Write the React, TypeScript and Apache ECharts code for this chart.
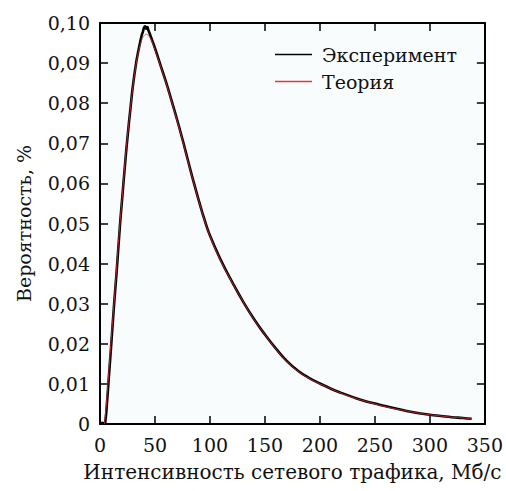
import React, { useEffect, useRef } from "react";
import * as echarts from "echarts";

// x values (Мб/с)
const xExp = [0, 2, 4, 5, 6.5, 8, 10, 13, 15, 18, 20, 23, 25, 28, 30, 33, 35, 37, 38, 39, 40, 41, 42, 43, 44, 45, 47, 50, 55, 60, 65, 70, 75, 80, 85, 90, 95, 100, 110, 120, 130, 140, 150, 160, 170, 180, 190, 200, 210, 220, 230, 240, 250, 260, 270, 280, 290, 300, 310, 320, 330, 338];
const yExp = [0, 0.0003, 0, 0.001, 0.0058, 0.0115, 0.019, 0.0305, 0.0375, 0.049, 0.0557, 0.0655, 0.0715, 0.0795, 0.0845, 0.0903, 0.0932, 0.0958, 0.0970, 0.0978, 0.0988, 0.0992, 0.0986, 0.0990, 0.0982, 0.0975, 0.0960, 0.0937, 0.0895, 0.0853, 0.0807, 0.0760, 0.0710, 0.0657, 0.0605, 0.0556, 0.0510, 0.0470, 0.0408, 0.0355, 0.0306, 0.0262, 0.0223, 0.0188, 0.0157, 0.0133, 0.0115, 0.0101, 0.0088, 0.0077, 0.0067, 0.0058, 0.0051, 0.0044, 0.0038, 0.0032, 0.0027, 0.0023, 0.0020, 0.0017, 0.0015, 0.0013];

const xTheory = [4, 5, 8, 10, 13, 15, 18, 20, 23, 25, 28, 30, 33, 35, 38, 40, 42, 45, 48, 50, 55, 60, 65, 70, 75, 80, 85, 90, 95, 100, 110, 120, 130, 140, 150, 160, 170, 180, 190, 200, 210, 220, 230, 240, 250, 260, 270, 280, 290, 300, 310, 320, 330, 338];
const yTheory = [0, 0.0025, 0.013, 0.0205, 0.031, 0.0385, 0.0495, 0.056, 0.066, 0.0718, 0.0795, 0.0843, 0.0900, 0.0928, 0.0958, 0.0968, 0.0972, 0.0965, 0.0948, 0.0933, 0.0893, 0.0851, 0.0805, 0.0758, 0.0708, 0.0655, 0.0604, 0.0555, 0.0509, 0.0469, 0.0406, 0.0354, 0.0306, 0.0261, 0.0223, 0.0187, 0.0156, 0.0132, 0.0114, 0.0100, 0.0088, 0.0076, 0.0066, 0.0058, 0.0050, 0.0043, 0.0037, 0.0032, 0.0027, 0.0023, 0.0020, 0.0017, 0.0015, 0.0013];

const seriesNames = ["Эксперимент", "Теория"];
const xAxisTitle = "Интенсивность сетевого трафика, Мб/с";
const yAxisTitle = "Вероятность, %";

const FONT = "DejaVu Serif";

export default function App() {
  const ref = useRef<HTMLDivElement>(null);
  useEffect(() => {
    if (!ref.current) return;
    const chart = echarts.init(ref.current, undefined, { renderer: "svg" });
    const tickStyle = { show: true, inside: true, length: 8, lineStyle: { color: "#000", width: 1.5 } };
    const axisLine = { show: true, onZero: false, lineStyle: { color: "#000", width: 2 } };
    chart.setOption({
      animation: false,
      backgroundColor: "#ffffff",
      textStyle: { fontFamily: FONT },
      grid: {
        left: 100,
        right: 21,
        top: 23,
        bottom: 67,
        show: true,
        backgroundColor: "#f9fcfd",
        borderWidth: 0,
      },
      legend: {
        left: 270,
        top: 40,
        orient: "vertical",
        icon: "rect",
        itemWidth: 37,
        itemHeight: 1.6,
        itemGap: 8,
        data: seriesNames,
        textStyle: { fontFamily: FONT, fontSize: 19, color: "#111", padding: [0, 0, 0, 5] },
      },
      xAxis: [
        {
          type: "value",
          min: 0,
          max: 350,
          interval: 50,
          position: "bottom",
          axisLine,
          axisTick: tickStyle,
          splitLine: { show: false },
          axisLabel: { fontFamily: FONT, fontSize: 19, color: "#111", margin: 11 },
          name: xAxisTitle,
          nameLocation: "middle",
          nameGap: 38,
          nameTextStyle: { fontFamily: FONT, fontSize: 20, color: "#111" },
        },
        {
          type: "value",
          min: 0,
          max: 350,
          interval: 50,
          position: "top",
          axisLine,
          axisTick: tickStyle,
          splitLine: { show: false },
          axisLabel: { show: false },
        },
      ],
      yAxis: [
        {
          type: "value",
          min: 0,
          max: 0.1,
          interval: 0.01,
          position: "left",
          axisLine,
          axisTick: tickStyle,
          splitLine: { show: false },
          axisLabel: {
            fontFamily: FONT,
            fontSize: 19,
            color: "#111",
            margin: 10,
            formatter: (v: number) => (v === 0 ? "0" : v.toFixed(2).replace(".", ",")),
          },
          name: yAxisTitle,
          nameLocation: "middle",
          nameGap: 67,
          nameTextStyle: { fontFamily: FONT, fontSize: 19, color: "#111" },
        },
        {
          type: "value",
          min: 0,
          max: 0.1,
          interval: 0.01,
          position: "right",
          axisLine,
          axisTick: tickStyle,
          splitLine: { show: false },
          axisLabel: { show: false },
        },
      ],
      series: [
        {
          name: seriesNames[0],
          type: "line",
          symbol: "none",
          smooth: 0.5,
          z: 2,
          data: xExp.map((x, i) => [x, yExp[i]]),
          lineStyle: { color: "#000", width: 2.6 },
          itemStyle: { color: "#000" },
        },
        {
          name: seriesNames[1],
          type: "line",
          symbol: "none",
          smooth: 0.5,
          z: 3,
          data: xTheory.map((x, i) => [x, yTheory[i]]),
          lineStyle: { color: "#e8343c", width: 1, opacity: 0.75 },
          itemStyle: { color: "#e8343c" },
        },
      ],
    });
    return () => chart.dispose();
  }, []);
  return (
    <div
      ref={ref}
      style={{ position: "absolute", left: 0, top: 0, width: 506, height: 491 }}
    />
  );
}
